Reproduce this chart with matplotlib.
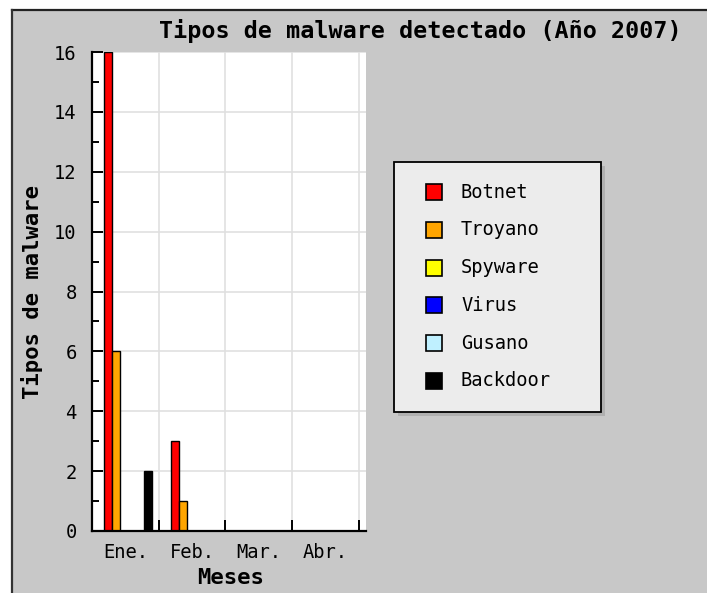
import matplotlib
matplotlib.use("Agg")
import matplotlib.pyplot as plt
from matplotlib.patches import Rectangle
from matplotlib.ticker import MultipleLocator, FixedLocator
import numpy as np

# ---- data ----
months = ["Ene.", "Feb.", "Mar.", "Abr."]
series_names = ["Botnet", "Troyano", "Spyware", "Virus", "Gusano", "Backdoor"]
botnet = [16, 3, 0, 0]
troyano = [6, 1, 0, 0]
spyware = [0, 0, 0, 0]
virus = [0, 0, 0, 0]
gusano = [0, 0, 0, 0]
backdoor = [2, 0, 0, 0]
series_values = [botnet, troyano, spyware, virus, gusano, backdoor]
colors = ["#ff0000", "#ffa500", "#ffff00", "#0000ff", "#bff0ff", "#000000"]

title = "Tipos de malware detectado (Año 2007)"
xlabel = "Meses"
ylabel = "Tipos de malware"

W, H = 707, 593
fig = plt.figure(figsize=(W / 100, H / 100), dpi=100)
fig.patch.set_facecolor("white")

MONO = ["DejaVu Sans Mono"]

def fx(x):
    return x / W

def fy(y):
    return 1 - y / H

# background frame
fig.patches.append(Rectangle((fx(12), 0), 1 - fx(12), fy(10), transform=fig.transFigure,
                             facecolor="#c8c8c8", edgecolor="none", zorder=-10))
fig.lines.append(plt.Line2D([fx(12), 1], [fy(10), fy(10)], transform=fig.transFigure,
                            color="#222222", lw=1.6, zorder=-5))
fig.lines.append(plt.Line2D([fx(12), fx(12)], [0, fy(10)], transform=fig.transFigure,
                            color="#333333", lw=1.6, zorder=-5))

# axes
ax_l, ax_r, ax_t, ax_b = 92, 366, 52, 531
ax = fig.add_axes([fx(ax_l), fy(ax_b), fx(ax_r - ax_l), (ax_b - ax_t) / H])
ax.set_zorder(1)
ax.set_facecolor("white")

bw = 0.12
start = -0.32
xs = np.arange(len(months))
for i, (vals, c) in enumerate(zip(series_values, colors)):
    ax.bar(xs + start + bw * (i + 0.5), vals, width=bw, color=c,
           edgecolor="black", linewidth=1.0, zorder=3)

ax.set_xlim(-0.5, 3.61)
ax.set_ylim(0, 16)

ax.yaxis.set_major_locator(MultipleLocator(2))
ax.yaxis.set_minor_locator(MultipleLocator(1))
ax.set_xticks(xs)
ax.set_xticklabels(months)
ax.xaxis.set_minor_locator(FixedLocator([0.5, 1.5, 2.5, 3.5]))

ax.grid(True, axis="y", which="major", color="#e0e0e0", lw=1.2, zorder=0)
ax.grid(True, axis="x", which="minor", color="#e0e0e0", lw=1.2, zorder=0)
ax.set_axisbelow(True)

for s in ["top", "right"]:
    ax.spines[s].set_visible(False)
for s in ["left", "bottom"]:
    ax.spines[s].set_linewidth(1.6)
    ax.spines[s].set_color("black")
    ax.spines[s].set_zorder(5)

ax.tick_params(axis="y", which="major", direction="in", length=8, width=1.4, pad=11,
               labelsize=13.5, colors="black")
ax.tick_params(axis="y", which="minor", direction="in", length=5, width=1.4)
ax.tick_params(axis="x", which="major", length=0, pad=9, labelsize=13.5)
ax.tick_params(axis="x", which="minor", direction="in", length=8, width=1.4)
for lab in ax.get_xticklabels() + ax.get_yticklabels():
    lab.set_family(MONO)

# texts
fig.text(fx(420), fy(31), title, ha="center", va="center", family=MONO,
         fontsize=16.8, fontweight="bold")
fig.text(fx(231), fy(578), xlabel, ha="center", va="center", family=MONO,
         fontsize=16, fontweight="bold")
fig.text(fx(32), fy(292), ylabel, ha="center", va="center", rotation=90, family=MONO,
         fontsize=16, fontweight="bold")

# legend (manual)
lx0, ly0, lx1, ly1 = 394, 162, 601, 412
sh = 4
fig.patches.append(Rectangle((fx(lx0 + sh), fy(ly1 + sh)), fx(lx1 - lx0), (ly1 - ly0) / H,
                             transform=fig.transFigure, facecolor="#b0b0b0",
                             edgecolor="none", zorder=2))
fig.patches.append(Rectangle((fx(lx0), fy(ly1)), fx(lx1 - lx0), (ly1 - ly0) / H,
                             transform=fig.transFigure, facecolor="#ececec",
                             edgecolor="black", lw=1.3, zorder=3))
for i, (name, c) in enumerate(zip(series_names, colors)):
    yc = 192 + i * 37.8
    fig.patches.append(Rectangle((fx(426), fy(yc + 8)), fx(16), 16 / H,
                                 transform=fig.transFigure, facecolor=c,
                                 edgecolor="black", lw=1.2, zorder=4))
    fig.text(fx(461), fy(yc), name, ha="left", va="center", family=MONO,
             fontsize=13.5, zorder=5)

fig.savefig("out.png", dpi=100)
